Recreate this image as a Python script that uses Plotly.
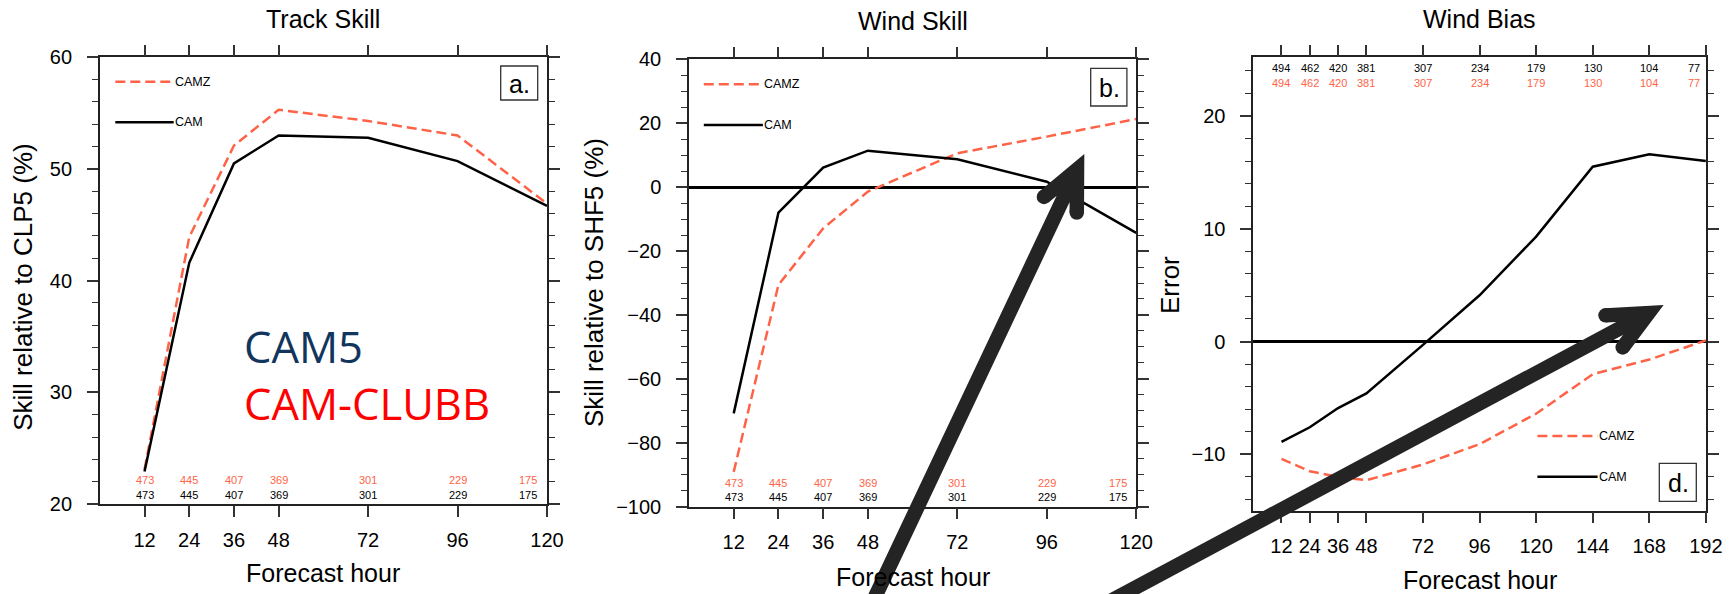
import math
import plotly.graph_objects as go

# ---------------------------------------------------------------- data
hours_ab = [12, 24, 36, 48, 72, 96, 120]
hours_d = [12, 24, 36, 48, 72, 96, 120, 144, 168, 192]

track_camz = [23.1, 43.9, 52.1, 55.3, 54.3, 53.0, 46.9]
track_cam = [22.9, 41.6, 50.5, 53.0, 52.8, 50.7, 46.7]

wind_camz = [-89.1, -30.6, -12.9, -1.4, 10.6, 15.8, 21.3]
wind_cam = [-70.8, -8.0, 6.1, 11.4, 8.7, 1.7, -14.3]

bias_camz = [-10.4, -11.5, -12.0, -12.3, -10.9, -9.1, -6.4, -2.9, -1.6, 0.1]
bias_cam = [-8.9, -7.6, -5.9, -4.6, -0.3, 4.1, 9.3, 15.5, 16.6, 16.0]

counts_ab = ["473", "445", "407", "369", "301", "229", "175"]
counts_ab_x = [12, 24, 36, 48, 72, 96, 115]
counts_d = ["494", "462", "420", "381", "307", "234", "179", "130", "104", "77"]
counts_d_x = [12, 24, 36, 48, 72, 96, 120, 144, 168, 187]

titles = ["Track Skill", "Wind Skill", "Wind Bias"]
ytitles = ["Skill relative to CLP5 (%)", "Skill relative to SHF5 (%)", "Error"]
xtitle = "Forecast hour"
panel_tags = ["a.", "b.", "d."]
series_names = ["CAMZ", "CAM"]
model_names = ["CAM5", "CAM-CLUBB"]

# ---------------------------------------------------------------- style
W, H = 1736, 594
FONT = "Liberation Sans, Arial, Helvetica, sans-serif"
RED = "#FF6347"
BLACK = "#000000"
AXC = "#222222"
ARROW = "#242424"


def px(x):
    return x / W


def py(y):
    return 1 - y / H


# plot frames in page pixels: (left, right, top, bottom)
frames = [
    (99.8, 547.0, 57.3, 504.0),
    (689.0, 1136.2, 59.3, 506.7),
    (1253.2, 1705.9, 57.3, 510.7),
]

fig = go.Figure()

axis_common = dict(
    ticks="outside", ticklen=11, tickwidth=1.5, tickcolor="#333333",
    showline=True, linecolor=AXC, linewidth=1.5, mirror="ticks",
    showgrid=False, automargin=False,
    tickfont=dict(family=FONT, size=20, color="black"),
)

x_specs = [
    dict(range=[0, 120], tickvals=hours_ab),
    dict(range=[0, 120], tickvals=hours_ab),
    dict(range=[0, 192], tickvals=hours_d),
]
y_specs = [
    dict(range=[20, 60], tick0=0, dtick=10, minor_dtick=2, zeroline=False),
    dict(range=[-100, 40], tick0=0, dtick=20, minor_dtick=5, zeroline=True),
    dict(range=[-15, 25.2], tick0=0, dtick=10, minor_dtick=2, zeroline=True),
]

layout_axes = {}
for i, ((l, r, t, b), xs, ys) in enumerate(zip(frames, x_specs, y_specs)):
    sfx = "" if i == 0 else str(i + 1)
    layout_axes["xaxis" + sfx] = dict(
        axis_common, domain=[px(l), px(r)], range=xs["range"],
        tickvals=xs["tickvals"], ticktext=[str(v) for v in xs["tickvals"]],
        zeroline=False, ticklabelstandoff=6,
        anchor="y" + sfx,
    )
    layout_axes["yaxis" + sfx] = dict(
        axis_common, domain=[py(b), py(t)], range=ys["range"],
        tick0=ys["tick0"], dtick=ys["dtick"],
        minor=dict(ticks="outside", ticklen=6, tickwidth=1.3,
                   tickcolor="#333333", dtick=ys["minor_dtick"],
                   tick0=0, showgrid=False),
        zeroline=ys["zeroline"], zerolinecolor=BLACK, zerolinewidth=2.5,
        ticklabelstandoff=11,
        anchor="x" + sfx,
    )

# ---------------------------------------------------------------- curves
panel_data = [
    (hours_ab, track_camz, track_cam),
    (hours_ab, wind_camz, wind_cam),
    (hours_d, bias_camz, bias_cam),
]
for i, (hrs, camz, cam) in enumerate(panel_data):
    sfx = "" if i == 0 else str(i + 1)
    fig.add_trace(go.Scatter(
        x=hrs, y=camz, mode="lines", name=series_names[0],
        line=dict(color=RED, width=2.5, dash="10px,5px"),
        xaxis="x" + sfx, yaxis="y" + sfx, showlegend=False,
    ))
    fig.add_trace(go.Scatter(
        x=hrs, y=cam, mode="lines", name=series_names[1],
        line=dict(color=BLACK, width=2.5),
        xaxis="x" + sfx, yaxis="y" + sfx, showlegend=False,
    ))

annotations = []
shapes = []

# ---------------------------------------------------------------- titles
title_y = [19, 21, 19]
xtitle_y = [573.3, 576.7, 580.0]
ytitle_pos = [(23.3, 286.5), (594.0, 283.0), (1170.0, 285.0)]
for i, (l, r, t, b) in enumerate(frames):
    cx = (l + r) / 2
    annotations.append(dict(
        text=titles[i], x=px(cx), y=py(title_y[i]), xref="paper", yref="paper",
        xanchor="center", yanchor="middle", showarrow=False,
        font=dict(family=FONT, size=25, color="black"),
    ))
    annotations.append(dict(
        text=xtitle, x=px(cx), y=py(xtitle_y[i]), xref="paper", yref="paper",
        xanchor="center", yanchor="middle", showarrow=False,
        font=dict(family=FONT, size=25, color="black"),
    ))
    yx, yy = ytitle_pos[i]
    annotations.append(dict(
        text=ytitles[i], x=px(yx), y=py(yy), xref="paper", yref="paper",
        xanchor="center", yanchor="middle", showarrow=False, textangle=-90,
        font=dict(family=FONT, size=26, color="black"),
    ))

# ---------------------------------------------------------------- sample counts
count_rows = [
    (counts_ab, counts_ab_x, "", [(0.054, RED), (0.021, BLACK)]),
    (counts_ab, counts_ab_x, "2", [(0.054, RED), (0.021, BLACK)]),
    (counts_d, counts_d_x, "3", [(0.977, BLACK), (0.944, RED)]),
]
for labels, xs, sfx, rows in count_rows:
    for yfrac, col in rows:
        for lab, xv in zip(labels, xs):
            annotations.append(dict(
                text=lab, x=xv, y=yfrac, xref="x" + sfx, yref="y" + sfx + " domain",
                xanchor="center", yanchor="middle", showarrow=False,
                font=dict(family=FONT, size=11, color=col),
            ))

# ---------------------------------------------------------------- in-plot legends
legend_pos = [
    (115.3, 173.7, 81.7, 122.3),
    (703.8, 762.9, 84.3, 125.0),
    (1537.4, 1597.6, 436.0, 476.7),
]
for x0, x1, yz, yc in legend_pos:
    shapes.append(dict(type="line", xref="paper", yref="paper",
                       x0=px(x0), x1=px(x1), y0=py(yz), y1=py(yz),
                       line=dict(color=RED, width=2.5, dash="10px,5px")))
    shapes.append(dict(type="line", xref="paper", yref="paper",
                       x0=px(x0), x1=px(x1), y0=py(yc), y1=py(yc),
                       line=dict(color=BLACK, width=2.5)))
    for name, yy in zip(series_names, (yz, yc)):
        annotations.append(dict(
            text=name, x=px(x1 - 1), y=py(yy), xref="paper", yref="paper",
            xanchor="left", yanchor="middle", showarrow=False,
            font=dict(family=FONT, size=12.5, color="black"),
        ))

# ---------------------------------------------------------------- panel tags
tag_boxes = [
    (500.7, 537.7, 66.0, 100.0),
    (1090.7, 1126.9, 68.3, 106.0),
    (1659.3, 1696.3, 463.3, 501.3),
]
for tag, (x0, x1, y0, y1) in zip(panel_tags, tag_boxes):
    shapes.append(dict(type="rect", xref="paper", yref="paper",
                       x0=px(x0), x1=px(x1), y0=py(y1), y1=py(y0),
                       line=dict(color="#333333", width=1.3),
                       fillcolor="white"))
    annotations.append(dict(
        text=tag, x=px((x0 + x1) / 2 + 0.5), y=py((y0 + y1) / 2 + 1),
        xref="paper", yref="paper", xanchor="center", yanchor="middle",
        showarrow=False, font=dict(family=FONT, size=25, color="black"),
    ))

# ---------------------------------------------------------------- model names
annotations.append(dict(
    text=(f"<span style='color:#12355E'>{model_names[0]}</span><br>"
          f"<span style='color:#FF0000'>{model_names[1]}</span>"),
    x=px(242), y=py(375), xref="paper", yref="paper",
    xanchor="left", yanchor="middle", align="left", showarrow=False,
    font=dict(family="Open Sans, sans-serif", size=43.5),
))


# ---------------------------------------------------------------- pointer arrows
def chevron_arrow(tail, tip, half_angle=25.0, arm=43.0, width=14.5, color=ARROW):
    tx, ty = tail
    hx, hy = tip
    ang = math.atan2(ty - hy, tx - hx)  # direction pointing back along the shaft
    ends = []
    for s in (1, -1):
        a = ang + s * math.radians(half_angle)
        ends.append((hx + arm * math.cos(a), hy + arm * math.sin(a)))
    (ax, ay), (bx, by) = ends
    path = (f"M{px(tx)},{py(ty)} L{px(hx)},{py(hy)} "
            f"M{px(ax)},{py(ay)} L{px(hx)},{py(hy)} L{px(bx)},{py(by)}")
    out = [dict(type="path", xref="paper", yref="paper", path=path,
                line=dict(color=color, width=width),
                fillcolor="rgba(0,0,0,0)", layer="above")]
    r = width / 2
    for ex, ey in ends:
        out.append(dict(type="circle", xref="paper", yref="paper",
                        x0=px(ex - r), x1=px(ex + r), y0=py(ey + r), y1=py(ey - r),
                        line=dict(width=0), fillcolor=color, layer="above"))
    return out


shapes += chevron_arrow((850, 650), (1077.0, 169.5))
shapes += chevron_arrow((1019, 650), (1648.5, 313.0))

fig.update_layout(
    width=W, height=H,
    margin=dict(l=0, r=0, t=0, b=0, pad=0, autoexpand=False),
    paper_bgcolor="white", plot_bgcolor="white",
    showlegend=False,
    annotations=annotations,
    shapes=shapes,
    **layout_axes,
)

fig.write_html("out.html")
